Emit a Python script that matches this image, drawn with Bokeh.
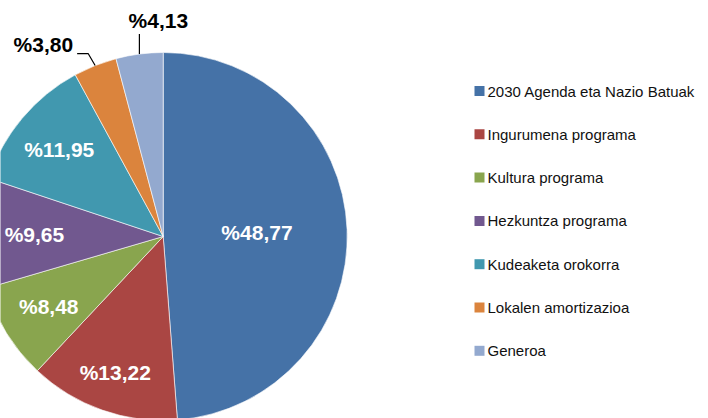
import math
from bokeh.plotting import figure
from bokeh.models import Range1d, ColumnDataSource
from bokeh.core.properties import value
from bokeh.embed import file_html
from bokeh.resources import INLINE

# ---- data ----
categories = ["2030 Agenda eta Nazio Batuak", "Ingurumena programa", "Kultura programa",
              "Hezkuntza programa", "Kudeaketa orokorra", "Lokalen amortizazioa", "Generoa"]
shares = [48.77, 13.22, 8.48, 9.65, 11.95, 3.80, 4.13]
labels = ["%48,77", "%13,22", "%8,48", "%9,65", "%11,95", "%3,80", "%4,13"]
colors = ["#4572A7", "#AA4643", "#89A54E", "#71588F", "#4198AF", "#DB843D", "#93A9CF"]

# ---- layout (page pixels; y measured up from bottom of page) ----
W, H = 708, 418
cx, cy, R = 162.7, H - 236, 184
label_frac = [0.51, 0.785, 0.73, 0.70, 0.737, None, None]
FONT = "Liberation Sans"

p = figure(width=W, height=H, x_range=Range1d(0, W), y_range=Range1d(0, H),
           output_backend="svg", toolbar_location=None, min_border=0)
p.axis.visible = False
p.grid.visible = False
p.outline_line_color = None
p.background_fill_color = "white"

total = sum(shares)
starts, ends, mids = [], [], []
cum = 0.0
for v in shares:
    a0 = math.pi / 2 - 2 * math.pi * cum / total
    cum += v
    a1 = math.pi / 2 - 2 * math.pi * cum / total
    starts.append(a0)
    ends.append(a1)
    mids.append((a0 + a1) / 2)

src = ColumnDataSource(dict(start=starts, end=ends, color=colors, cat=categories))
p.wedge(x=cx, y=cy, radius=R, start_angle="start", end_angle="end", direction="clock",
        fill_color="color", line_color="white", line_width=0.6, source=src)

# inside labels
ix, iy, it = [], [], []
for i, f in enumerate(label_frac):
    if f is None:
        continue
    ix.append(cx + f * R * math.cos(mids[i]))
    iy.append(cy + f * R * math.sin(mids[i]))
    it.append(labels[i])
p.text(x=ix, y=iy, text=it, text_color="white", text_font=value(FONT),
       text_font_style="bold", text_font_size="21px", text_align="center",
       text_baseline="middle")

# outside labels with leader lines
# Lokalen amortizazioa (index 5)
ex = cx + R * math.cos(mids[5]); ey = cy + R * math.sin(mids[5])
p.line(x=[ex, ex - 7, ex - 18], y=[ey, ey + 12, ey + 12], line_color="black", line_width=1.2)
p.text(x=[ex - 22], y=[ey + 21], text=[labels[5]], text_color="black", text_font=value(FONT),
       text_font_style="bold", text_font_size="21px", text_align="right",
       text_baseline="middle")
# Generoa (index 6)
ex = cx + R * math.cos(mids[6]); ey = cy + R * math.sin(mids[6])
p.line(x=[ex, ex], y=[ey, ey + 20], line_color="black", line_width=1.2)
p.text(x=[ex + 19], y=[ey + 34], text=[labels[6]], text_color="black", text_font=value(FONT),
       text_font_style="bold", text_font_size="21px", text_align="center",
       text_baseline="middle")

# legend
lx, ly0, dy = 479, H - 90.5, 43.3
ly = [ly0 - i * dy for i in range(len(categories))]
p.rect(x=[lx] * len(categories), y=ly, width=10, height=10, fill_color=colors, line_color=None)
p.text(x=[lx + 8] * len(categories), y=ly, text=categories, text_color="#111111",
       text_font=value(FONT), text_font_size="15px", text_align="left", text_baseline="middle")

open("out.html", "w").write(file_html(p, INLINE))
